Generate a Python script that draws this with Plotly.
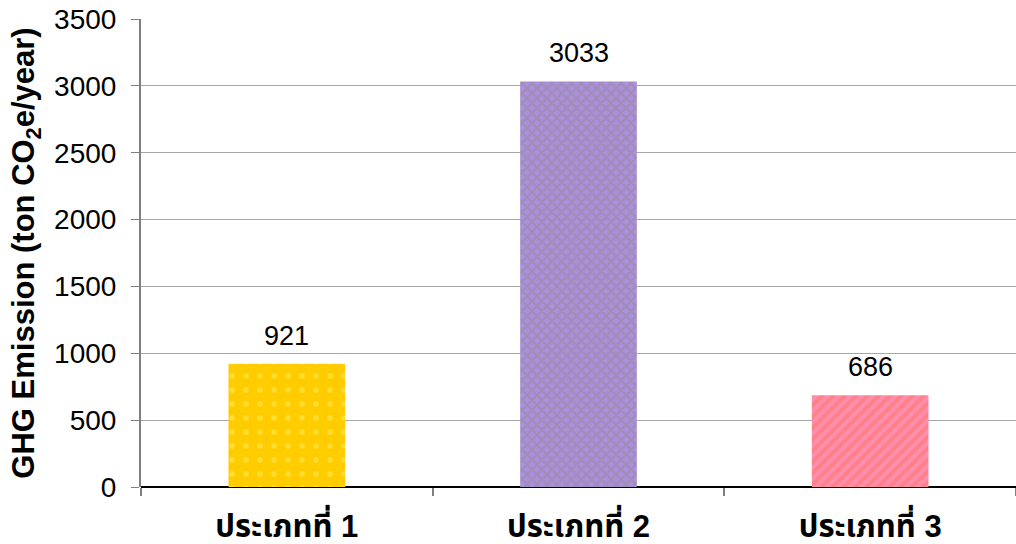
import plotly.graph_objects as go

categories = ["ประเภทที่ 1", "ประเภทที่ 2", "ประเภทที่ 3"]
values = [921, 3033, 686]
y_ticks = [0, 500, 1000, 1500, 2000, 2500, 3000, 3500]

bar_colors = ["#FFCC00", "#AE8EE0", "#FF8088"]
pattern_shapes = [".", "x", "/"]
pattern_fg = ["#FFEE66", "#8E8E8E", "#FF9ED2"]
pattern_size = [14, 7, 8]
pattern_solidity = [0.12, 0.55, 0.5]

FONT = "Arial, Liberation Sans, Noto Sans Thai, Noto Sans, sans-serif"

fig = go.Figure()
for i, (c, v) in enumerate(zip(categories, values)):
    fig.add_trace(go.Bar(
        x=[c], y=[v],
        width=0.4,
        marker=dict(
            color=bar_colors[i],
            line=dict(width=0),
            pattern=dict(shape=pattern_shapes[i], fgcolor=pattern_fg[i],
                         size=pattern_size[i], solidity=pattern_solidity[i],
                         fillmode="overlay"),
        ),
        hoverinfo="skip",
    ))
    fig.add_annotation(
        x=c, y=v, text=str(v), showarrow=False,
        yanchor="bottom", yshift=11,
        font=dict(family=FONT, size=27, color="black"),
    )

fig.update_layout(
    width=1016, height=544,
    margin=dict(l=141, r=0, t=19, b=57),
    paper_bgcolor="white", plot_bgcolor="white",
    showlegend=False, barmode="overlay",
    font=dict(family=FONT, color="black"),
)
fig.update_xaxes(
    type="category",
    categoryorder="array", categoryarray=categories,
    tickson="boundaries",
    ticks="outside", ticklen=8, tickcolor="#808080", tickwidth=2,
    showline=False,
    tickfont=dict(size=31, family=FONT, color="black"),
    ticklabelstandoff=18,
    range=[-0.5, 2.5],
    tickvals=categories,
    ticktext=["<b>%s</b>" % c for c in categories],
)
fig.update_yaxes(
    range=[0, 3500],
    tickvals=y_ticks,
    ticks="outside", ticklen=8, tickcolor="#808080",
    showline=True, linecolor="#808080", linewidth=2,
    showgrid=True, gridcolor="#A8A8A8", gridwidth=1,
    zeroline=True, zerolinecolor="black", zerolinewidth=2,
    tickfont=dict(size=28, color="black"),
    ticklabelstandoff=9,
    title=dict(text="<b>GHG Emission (ton CO<sub>2</sub>e/year)</b>",
               font=dict(size=31, color="black"), standoff=10),
)

fig.write_html("out.html")
